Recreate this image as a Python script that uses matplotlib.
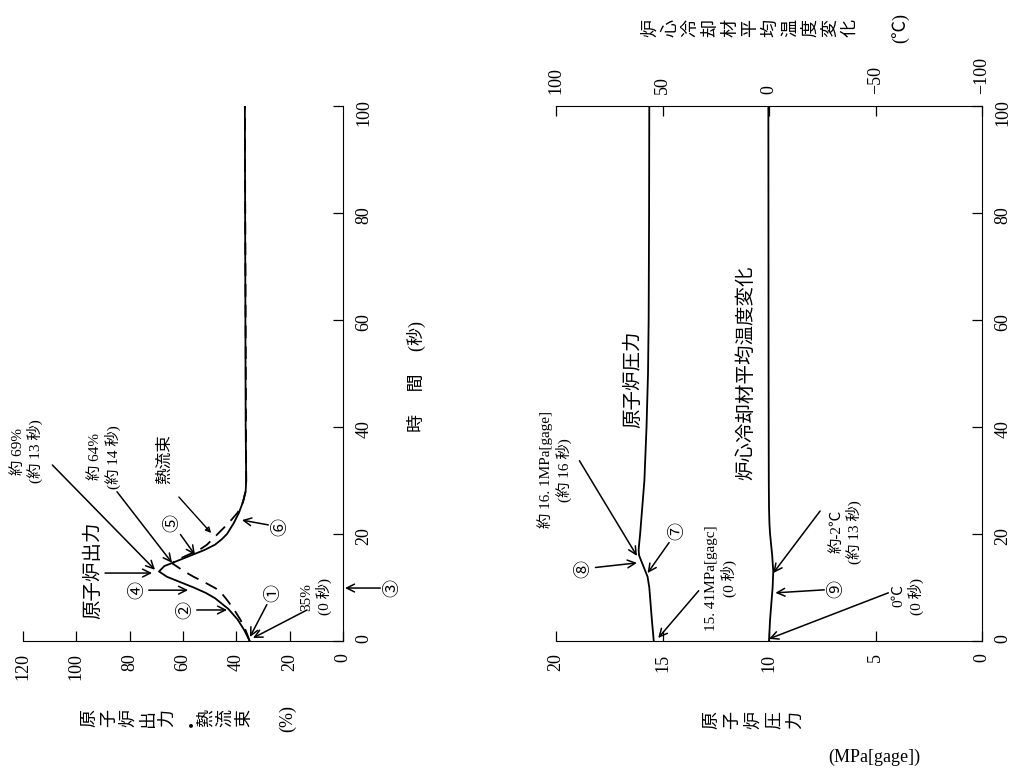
import matplotlib
matplotlib.use("Agg")
import matplotlib.pyplot as plt

plt.rcParams['font.family'] = ['Liberation Serif', 'Noto Sans CJK JP', 'DejaVu Sans']
JP = ['Noto Sans CJK JP', 'DejaVu Sans']

# power / heat flux (%)
power_t = [0, 2, 4, 6, 8, 9, 10, 11, 12, 13, 14, 15, 16, 17, 18, 19, 20, 22, 24, 26, 28, 30, 40, 60, 80, 100]
power_v = [35, 37, 39.5, 43, 48, 51.5, 56, 61, 66, 69, 67, 62, 57, 52, 48, 45.5, 43.5, 41, 39, 37.5, 36.5, 36.3, 36.5, 36.6, 36.7, 36.8]
flux_t = [0, 2, 4, 6, 8, 9.5, 11, 12, 13, 14, 14.5, 15, 16, 17, 18, 20, 22, 24, 26, 28, 30, 100]
flux_v = [35, 36.5, 38.5, 41, 44, 46.5, 52, 56, 59.5, 62.5, 64, 63, 58.5, 54, 51, 47, 43, 39.5, 37.5, 36.5, 36.3, 36.8]

# pressure (MPa[gage]) and coolant temperature change (degC)
press_t = [0, 4, 8, 10, 12, 14, 16, 17, 18, 20, 25, 30, 40, 50, 60, 80, 100]
press_v = [15.41, 15.5, 15.58, 15.62, 15.7, 15.9, 16.1, 16.12, 16.1, 16.05, 15.95, 15.85, 15.75, 15.68, 15.65, 15.63, 15.62]
temp_t = [0, 4, 8, 10, 13, 16, 18, 20, 22, 25, 30, 50, 100]
temp_v = [0, -0.5, -1.3, -1.7, -2.0, -1.5, -1.0, -0.5, -0.2, 0, 0.1, 0.2, 0.3]

power_ticks = [0, 20, 40, 60, 80, 100, 120]
time_ticks = [0, 20, 40, 60, 80, 100]
press_ticks = [0, 5, 10, 15, 20]
temp_ticks = [100, 50, 0, -50, -100]

fig = plt.figure(figsize=(10.12, 7.78), dpi=100)
ax1 = fig.add_axes([23 / 1012, 1 - 641 / 778, 320 / 1012, 535 / 778])
ax2 = fig.add_axes([556 / 1012, 1 - 641 / 778, 426 / 1012, 535 / 778])


def style(ax):
    ax.tick_params(direction='in', length=7.5, width=0.9, labelsize=13, pad=9)
    ax.set_facecolor('none')


# ---- left panel
ax1.plot(power_v, power_t, color='black', lw=1.3)
ax1.plot(flux_v, flux_t, color='black', lw=1.3, dashes=(7, 4.5))
ax1.set_xlim(120, 0)
ax1.set_ylim(0, 100)
ax1.spines['top'].set_visible(False)
ax1.spines['left'].set_visible(False)
ax1.set_xticks(power_ticks)
ax1.set_yticks(time_ticks)
ax1.yaxis.tick_right()
style(ax1)
for lab in ax1.get_xticklabels() + ax1.get_yticklabels():
    lab.set_rotation(90)

# ---- right panel
ax2.plot(press_v, press_t, color='black', lw=1.3)
ax2.set_xlim(20, 0)
ax2.set_ylim(0, 100)
ax2.spines['left'].set_visible(False)
ax2.spines['top'].set_visible(False)
ax2.set_xticks(press_ticks)
ax2.set_yticks(time_ticks)
ax2.yaxis.tick_right()
style(ax2)

ax3 = ax2.twiny()
ax3.plot(temp_v, temp_t, color='black', lw=1.3)
ax3.set_xlim(100, -100)
ax3.set_xticks(temp_ticks)
for s in ['left', 'right', 'bottom']:
    ax3.spines[s].set_visible(False)
style(ax3)
for lab in ax2.get_xticklabels() + ax2.get_yticklabels() + ax3.get_xticklabels():
    lab.set_rotation(90)

arrow = dict(arrowstyle='->', color='black', lw=1.1, shrinkA=0, shrinkB=0, mutation_scale=14)


def note(ax, text, xy, xytext, size=10, family=None):
    ax.annotate(text, xy=xy, xytext=xytext, rotation=90, ha='center', va='center',
                multialignment='center', fontsize=size, family=family,
                arrowprops=arrow, annotation_clip=False)


def label(ax, text, xy, size=10, family=None, **kw):
    ax.text(xy[0], xy[1], text, rotation=90, ha='center', va='center',
            multialignment='center', fontsize=size, family=family, clip_on=False, **kw)


# left panel notes
label(ax1, '約 69%\n(約 13 秒)', (118.5, 35.5), size=11)
ax1.annotate('', xy=(70.5, 13.3), xytext=(109, 32.9), arrowprops=arrow, annotation_clip=False)
label(ax1, '約 64%\n(約 14 秒)', (89.5, 34.4), size=11)
ax1.annotate('', xy=(64.1, 14.6), xytext=(84.75, 27.9), arrowprops=arrow)
label(ax1, '熱流束', (66.75, 34), size=12, family=JP)
ax1.annotate('', xy=(48.75, 19.8), xytext=(62.25, 27.3),
             arrowprops=dict(arrowstyle='-|>', color='black', lw=1.0, fill=False, mutation_scale=8))
label(ax1, '原子炉出力', (93.75, 13.3), size=14, family=JP)
ax1.annotate('', xy=(71.6, 12.7), xytext=(89.25, 12.7), arrowprops=arrow)
note(ax1, '⑤', (55.5, 16.1), (64.1, 22.1), size=13, family=JP)
note(ax1, '⑥', (37.9, 22.6), (23.6, 21.3), size=13, family=JP)
note(ax1, '④', (58.1, 9.5), (77.25, 9.5), size=13, family=JP)
note(ax1, '②', (43.5, 5.8), (59.25, 5.8), size=13, family=JP)
note(ax1, '①', (34.9, 0.75), (26.25, 9.0), size=13, family=JP)
label(ax1, '35%\n(0 秒)', (10, 8.3), size=11)
ax1.annotate('', xy=(33.75, 0.56), xytext=(13.5, 5.8), arrowprops=arrow)
note(ax1, '③', (-0.75, 9.9), (-18.4, 9.9), size=13, family=JP)
label(ax1, '時　 間　 (秒)', (-27.4, 49.5), size=13)

# right panel notes
label(ax2, '約 16. 1MPa[gage]\n(約 16 秒)', (20.05, 32.0), size=11)
ax2.annotate('', xy=(16.2, 15.9), xytext=(18.9, 33.7), arrowprops=arrow, annotation_clip=False)
note(ax2, '⑧', (16.2, 14.6), (18.7, 13.5), size=13, family=JP)
note(ax2, '⑦', (15.7, 12.7), (14.3, 20.6), size=13, family=JP)
label(ax2, '15. 41MPa[gagc]\n(0 秒)', (12.25, 11.7), size=11)
ax2.annotate('', xy=(15.2, 0.56), xytext=(13.3, 9.4), arrowprops=arrow)
label(ax2, '原子炉圧力', (16.4, 49), size=14, family=JP)
label(ax2, '炉心冷却材平均温度変化', (11.1, 50.2), size=14, family=JP)
label(ax2, '約-2℃\n(約 13 秒)', (6.4, 20.4), size=11)
ax2.annotate('', xy=(9.8, 12.7), xytext=(7.6, 24.3), arrowprops=arrow)
note(ax2, '⑨', (9.7, 9.0), (6.85, 9.7), size=13, family=JP)
label(ax2, '0℃\n(0 秒)', (3.45, 8.4), size=11)
ax2.annotate('', xy=(10, 0.4), xytext=(4.4, 9.0), arrowprops=arrow)

# axis titles (vertical writing turned with the page)
fig.text(167 / 1012, 1 - 718 / 778, '\n'.join('原子炉出力・熱流束'), rotation=90, ha='center', va='center',
         fontsize=13, family=JP, linespacing=1.1)
fig.text(288 / 1012, 1 - 718 / 778, '(%)', rotation=90, ha='center', va='center', fontsize=13)
fig.text(753 / 1012, 1 - 720 / 778, '\n'.join('原子炉圧力'), rotation=90, ha='center', va='center',
         fontsize=13, family=JP, linespacing=1.2)
fig.text(874 / 1012, 1 - 757 / 778, '(MPa[gage])', ha='center', va='center', fontsize=13)
fig.text(750 / 1012, 1 - 28 / 778, '\n'.join('炉心冷却材平均温度変化'), rotation=90, ha='center', va='center',
         fontsize=13, family=JP, linespacing=1.14)
fig.text(900 / 1012, 1 - 28 / 778, '(℃)', rotation=90, ha='center', va='center', fontsize=13)

fig.savefig('out.png', dpi=100)
